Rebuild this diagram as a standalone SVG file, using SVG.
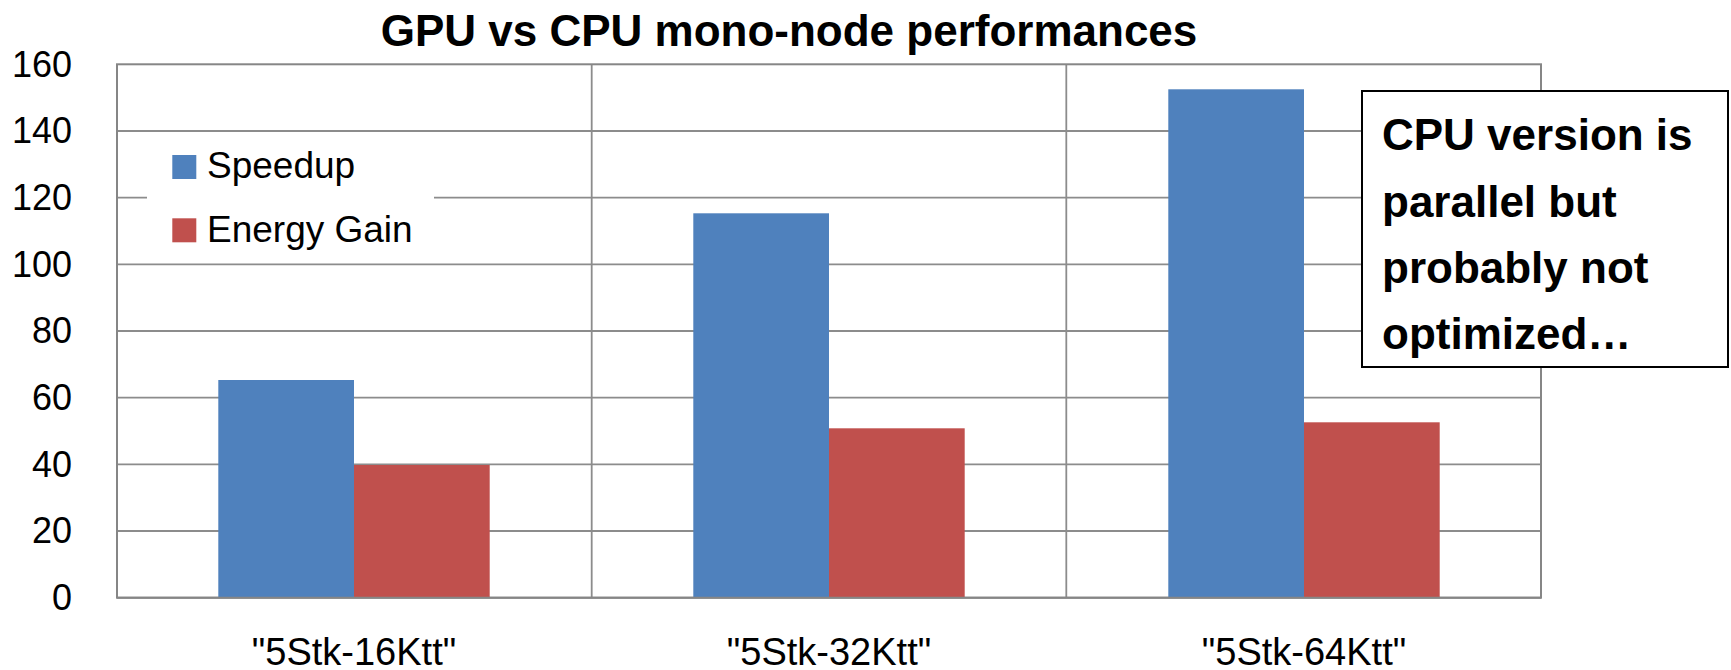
<svg xmlns="http://www.w3.org/2000/svg" width="1731" height="670" viewBox="0 0 1731 670">
  <style>
    .grid { stroke: #8c8c8c; stroke-width: 1.8; fill: none; }
    .axis { stroke: #868686; stroke-width: 2; fill: none; }
    .ylab { font-family: "Liberation Sans", Arial, sans-serif; font-size: 36px; fill: #000; text-anchor: end; }
    .xlab { font-family: "Liberation Sans", Arial, sans-serif; font-size: 38px; fill: #000; text-anchor: middle; }
    .leg { font-family: "Liberation Sans", Arial, sans-serif; font-size: 37px; fill: #000; }
    .title { font-family: "Liberation Sans", Arial, sans-serif; font-size: 44px; font-weight: bold; fill: #000; text-anchor: middle; }
    .note { font-family: "Liberation Sans", Arial, sans-serif; font-size: 44px; font-weight: bold; fill: #000; }
    .blue { fill: #4f81bd; }
    .red { fill: #c0504d; }
  </style>
  <rect x="0" y="0" width="1731" height="670" fill="#ffffff"/>

  <g id="title">
    <text class="title" x="789" y="46">GPU vs CPU mono-node performances</text>
  </g>

  <g id="grid">
    <line class="grid" x1="117" y1="531" x2="1541" y2="531"/>
    <line class="grid" x1="117" y1="464.3" x2="1541" y2="464.3"/>
    <line class="grid" x1="117" y1="397.7" x2="1541" y2="397.7"/>
    <line class="grid" x1="117" y1="331" x2="1541" y2="331"/>
    <line class="grid" x1="117" y1="264.3" x2="1541" y2="264.3"/>
    <line class="grid" x1="117" y1="197.7" x2="1541" y2="197.7"/>
    <line class="grid" x1="117" y1="131" x2="1541" y2="131"/>
    <line class="grid" x1="591.7" y1="64.3" x2="591.7" y2="597.7"/>
    <line class="grid" x1="1066.3" y1="64.3" x2="1066.3" y2="597.7"/>
    <rect class="axis" x="117" y="64.3" width="1424" height="533.4"/>
  </g>

  <g id="y-axis">
    <text class="ylab" x="72" y="610">0</text>
    <text class="ylab" x="72" y="543">20</text>
    <text class="ylab" x="72" y="476.5">40</text>
    <text class="ylab" x="72" y="410">60</text>
    <text class="ylab" x="72" y="343">80</text>
    <text class="ylab" x="72" y="276.5">100</text>
    <text class="ylab" x="72" y="210">120</text>
    <text class="ylab" x="72" y="143">140</text>
    <text class="ylab" x="72" y="76.5">160</text>
  </g>

  <g id="bars">
    <rect class="blue" x="218.3" y="380" width="135.7" height="217.7"/>
    <rect class="red" x="354" y="465" width="135.7" height="132.7"/>
    <rect class="blue" x="693.3" y="213.3" width="135.7" height="384.4"/>
    <rect class="red" x="829" y="428.3" width="135.7" height="169.4"/>
    <rect class="blue" x="1168.3" y="89.3" width="135.7" height="508.4"/>
    <rect class="red" x="1304" y="422.3" width="135.7" height="175.4"/>
    <line class="axis" x1="117" y1="597.7" x2="1541" y2="597.7"/>
  </g>

  <g id="x-axis">
    <text class="xlab" x="354" y="665">"5Stk-16Ktt"</text>
    <text class="xlab" x="829" y="665">"5Stk-32Ktt"</text>
    <text class="xlab" x="1304" y="665">"5Stk-64Ktt"</text>
  </g>

  <g id="legend">
    <rect x="147" y="140" width="287" height="116" fill="#ffffff"/>
    <rect class="blue" x="172.3" y="155" width="24" height="24"/>
    <text class="leg" x="207" y="178.3">Speedup</text>
    <rect class="red" x="172.3" y="218.3" width="24" height="24"/>
    <text class="leg" x="207" y="241.7">Energy Gain</text>
  </g>

  <g id="callout">
    <rect x="1362" y="91" width="366" height="276" fill="#ffffff" stroke="#000000" stroke-width="2"/>
    <text class="note" x="1382" y="150">CPU version is</text>
    <text class="note" x="1382" y="217">parallel but</text>
    <text class="note" x="1382" y="283">probably not</text>
    <text class="note" x="1382" y="349">optimized…</text>
  </g>
</svg>
